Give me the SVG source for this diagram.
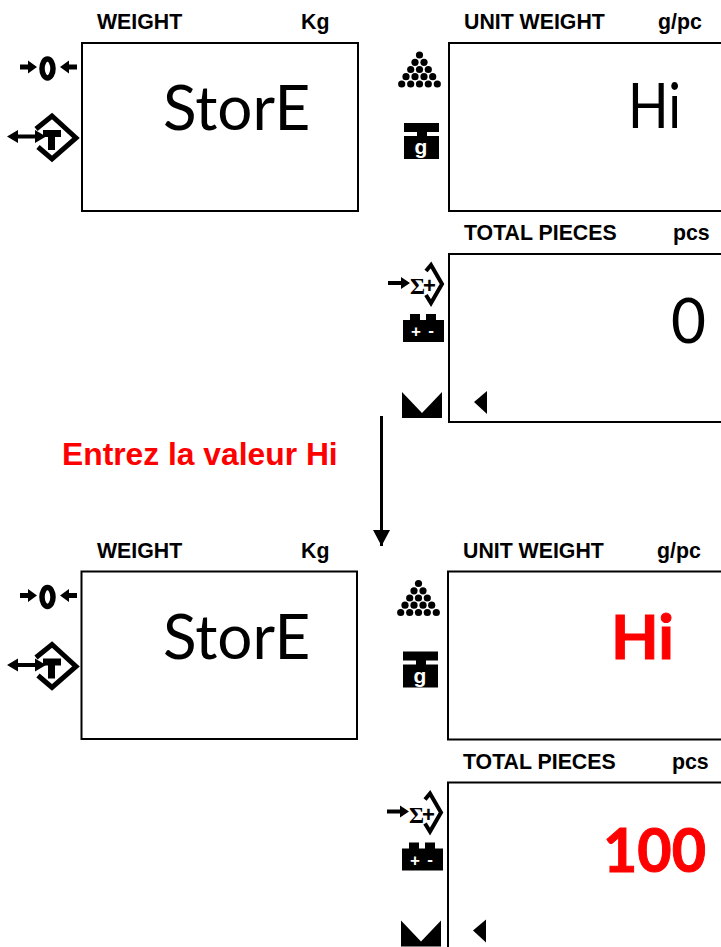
<svg xmlns="http://www.w3.org/2000/svg" width="721" height="947" viewBox="0 0 721 947">
<style>
.h{font:bold 21.300px "Liberation Sans",Arial,sans-serif;fill:#000}
.b{font:62px Lato,"Open Sans",sans-serif;fill:#000}
.r{font:bold 62px Lato,"Open Sans",sans-serif;fill:#f00;stroke:#f00;stroke-width:1}
.p{fill:#fff;stroke:#000;stroke-width:2}
.l{stroke:#000;fill:none}
.w{font:bold 21px "Liberation Sans",Arial,sans-serif;fill:#fff;text-anchor:middle}
</style>
<defs>
<marker id="ah" markerWidth="16" markerHeight="17" refX="16" refY="8.500" orient="auto" markerUnits="userSpaceOnUse"><path d="M0 0L16 8.500L0 17Z" fill="#000"/></marker>
<g id="zero"><path d="M20 64.500h8v-4l9 6.500-9 6.500v-4h-8zM77 64.500h-8v-4l-9 6.500 9 6.500v-4h8z"/><ellipse cx="47.500" cy="68.500" rx="5.500" ry="9.500" fill="none" stroke="#000" stroke-width="5.500"/></g>
<g id="tare"><path d="M36 129L52 116L76 138L52 159L38 147" fill="none" stroke="#000" stroke-width="5"/><path d="M7 136.500l11-6.500v4.500h17v-4.500l11 6.500-11 6.500v-4.500h-17v4.500z"/><path d="M43 130h18v7h-6v13h-7v-13h-5z"/></g>
<g id="pile"><circle cx="419.500" cy="55" r="3.600"/><circle cx="415" cy="62.300" r="3.600"/><circle cx="424" cy="62.300" r="3.600"/><circle cx="410.700" cy="69.500" r="3.600"/><circle cx="419.500" cy="69.500" r="3.600"/><circle cx="428.300" cy="69.500" r="3.600"/><circle cx="406" cy="76.700" r="3.600"/><circle cx="415" cy="76.700" r="3.600"/><circle cx="424" cy="76.700" r="3.600"/><circle cx="432.700" cy="76.700" r="3.600"/><circle cx="401.700" cy="84" r="3.600"/><circle cx="410.700" cy="84" r="3.600"/><circle cx="419.500" cy="84" r="3.600"/><circle cx="428.300" cy="84" r="3.600"/><circle cx="437.300" cy="84" r="3.600"/></g>
<g id="weightg"><path d="M404 123h35v9h-12v4h12v23h-35v-23h13v-4h-13z"/><text class="w" x="421" y="154">g</text></g>
<g id="sum"><path d="M388 281h13v-4l9 6-9 6v-4h-13z"/><path d="M426 271L431 265L442 284L431 303L426 295" fill="none" stroke="#000" stroke-width="4"/><text x="410" y="294" font-family="Liberation Serif,serif" font-weight="bold" font-size="23">Σ</text><text x="423" y="293" font-family="Liberation Sans,sans-serif" font-weight="bold" font-size="22">+</text></g>
<g id="batt"><path d="M403 320h7v-6h10v6h6v-6h10v6h8v22h-41z"/><text class="w" x="416" y="337" style="font-size:17px">+</text><text class="w" x="431" y="336" style="font-size:17px">-</text></g>
<path id="mm" d="M402 392L422 413L442 392V418H402Z"/>
<path id="tri" d="M474 402L487 391V414Z"/>
</defs>
<g id="connectors"><path class="l" d="M381.500 416V546" stroke-width="3" marker-end="url(#ah)"/></g>
<text x="62" y="465" font-family="Liberation Sans,Arial,sans-serif" font-weight="bold" font-size="31.800" fill="#f00">Entrez la valeur Hi</text>
<g id="weight-top"><rect class="p" x="82" y="43" width="276" height="168"/><text class="h" x="97" y="29">WEIGHT</text><text class="h" x="301" y="29">Kg</text><text class="b" x="163" y="130">StorE</text><use href="#zero"/><use href="#tare"/></g>
<g id="unit-top"><path class="p" d="M722 43H449V211H722"/><text class="h" x="464" y="29">UNIT WEIGHT</text><text class="h" x="658" y="29">g/pc</text><text class="b" x="628" y="128" textLength="53" lengthAdjust="spacingAndGlyphs">Hi</text><use href="#pile"/><use href="#weightg"/></g>
<g id="total-top"><path class="p" d="M722 254H449V422H722"/><text class="h" x="464" y="240">TOTAL PIECES</text><text class="h" x="673" y="240">pcs</text><text class="b" x="671" y="343" textLength="35" lengthAdjust="spacingAndGlyphs">0</text><use href="#sum"/><use href="#batt"/><use href="#mm"/><use href="#tri"/></g>
<g id="weight-bottom" transform="translate(0 528.500)"><rect class="p" x="81.500" y="43" width="275.500" height="167.500"/><text class="h" x="97" y="29">WEIGHT</text><text class="h" x="301" y="29">Kg</text><text class="b" x="163" y="130">StorE</text><use href="#zero"/><use href="#tare"/></g>
<g id="unit-bottom" transform="translate(-1 528.500)"><path class="p" d="M723 43H449V211H723"/><text class="h" x="464" y="29">UNIT WEIGHT</text><text class="h" x="658" y="29">g/pc</text><text class="r" x="612" y="130">Hi</text><use href="#pile"/><use href="#weightg"/></g>
<g id="total-bottom" transform="translate(-1 528.500)"><path class="p" d="M723 254H449V422H723"/><text class="h" x="464" y="240">TOTAL PIECES</text><text class="h" x="673" y="240">pcs</text><text class="r" x="604" y="343" textLength="103" lengthAdjust="spacingAndGlyphs">100</text><use href="#sum"/><use href="#batt"/><use href="#mm"/><use href="#tri"/></g>
</svg>
